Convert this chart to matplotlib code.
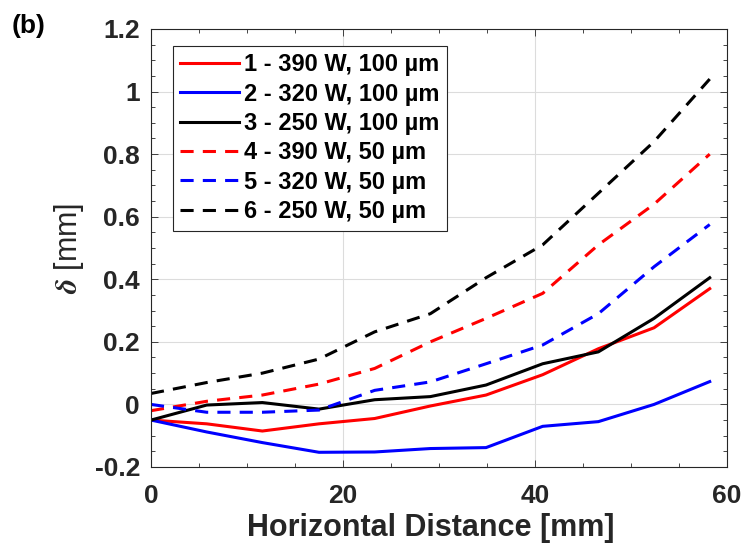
import matplotlib.pyplot as plt
from matplotlib.ticker import MultipleLocator

plt.rcParams["font.family"] = ["Liberation Sans", "DejaVu Sans"]
plt.rcParams["font.weight"] = "bold"
plt.rcParams["mathtext.fontset"] = "stix"

# horizontal positions of the measurement points [mm]
dist = [0, 5.8, 11.6, 17.5, 23.3, 29.1, 34.9, 40.8, 46.6, 52.4, 58.2]

# deflection delta [mm] for each build condition
d_390_100 = [-0.05, -0.062, -0.085, -0.062, -0.045, -0.005, 0.03, 0.095, 0.178, 0.245, 0.37]
d_320_100 = [-0.05, -0.088, -0.122, -0.153, -0.152, -0.141, -0.138, -0.07, -0.055, 0.0, 0.073]
d_250_100 = [-0.05, -0.002, 0.006, -0.015, 0.015, 0.025, 0.062, 0.13, 0.168, 0.275, 0.405]
d_390_50 = [-0.02, 0.01, 0.03, 0.065, 0.115, 0.2, 0.275, 0.355, 0.51, 0.64, 0.8]
d_320_50 = [0.0, -0.025, -0.025, -0.018, 0.045, 0.072, 0.13, 0.19, 0.29, 0.44, 0.575]
d_250_50 = [0.035, 0.07, 0.1, 0.145, 0.232, 0.29, 0.405, 0.51, 0.675, 0.84, 1.04]

labels = [
    "1 - 390 W, 100 µm",
    "2 - 320 W, 100 µm",
    "3 - 250 W, 100 µm",
    "4 - 390 W, 50 µm",
    "5 - 320 W, 50 µm",
    "6 - 250 W, 50 µm",
]

fig = plt.figure(figsize=(7.42, 5.48), dpi=100)
ax = fig.add_axes([151 / 742, 81 / 548, 576 / 742, 438 / 548])

dash = (0, (4.3, 3))
series = [
    (d_390_100, "#ff0000", "-"),
    (d_320_100, "#0000ff", "-"),
    (d_250_100, "#000000", "-"),
    (d_390_50, "#ff0000", dash),
    (d_320_50, "#0000ff", dash),
    (d_250_50, "#000000", dash),
]
for (vals, col, ls), lab in zip(series, labels):
    ax.plot(dist, vals, color=col, linestyle=ls, linewidth=2.2, label=lab)

ax.set_xlim(0, 60)
ax.set_ylim(-0.2, 1.2)
ax.xaxis.set_major_locator(MultipleLocator(20))
ax.xaxis.set_minor_locator(MultipleLocator(5))
ax.yaxis.set_minor_locator(MultipleLocator(0.05))
ax.set_yticks([-0.2, 0, 0.2, 0.4, 0.6, 0.8, 1.0, 1.2])
ax.set_yticklabels(["-0.2", "0", "0.2", "0.4", "0.6", "0.8", "1", "1.2"])
ax.tick_params(which="both", direction="in", top=True, right=True,
               labelsize=19, colors="#262626", width=0.6)
ax.tick_params(which="major", length=5)
ax.tick_params(axis="x", which="major", pad=12)
ax.tick_params(axis="y", which="major", pad=8)
ax.tick_params(which="minor", length=3)
for lab in ax.get_xticklabels() + ax.get_yticklabels():
    lab.set_fontweight("bold")
for sp in ax.spines.values():
    sp.set_color("#262626")
    sp.set_linewidth(0.8)
ax.grid(True, which="major", color="#dcdcdc", linewidth=0.8)
ax.set_axisbelow(True)

ax.set_xlabel("Horizontal Distance [mm]", fontsize=22, fontweight="bold",
              color="#262626")
ax.xaxis.set_label_coords(0.485, -0.105)
ax.set_ylabel(r"$\delta$ [mm]", fontsize=22, fontweight="normal",
              color="#262626", labelpad=6)

leg = ax.legend(loc="upper left", bbox_to_anchor=(0.038, 0.962),
                prop={"weight": "bold", "size": 17}, handlelength=2.5,
                handletextpad=0.2, labelspacing=0.27, borderpad=0.32,
                borderaxespad=0, fancybox=False, framealpha=1,
                edgecolor="#262626")
leg.get_frame().set_linewidth(0.8)

fig.text(12 / 742, 1 - 26 / 548, "(b)", fontsize=19, fontweight="bold",
         va="center", ha="left")

fig.savefig("out.png", dpi=100)
